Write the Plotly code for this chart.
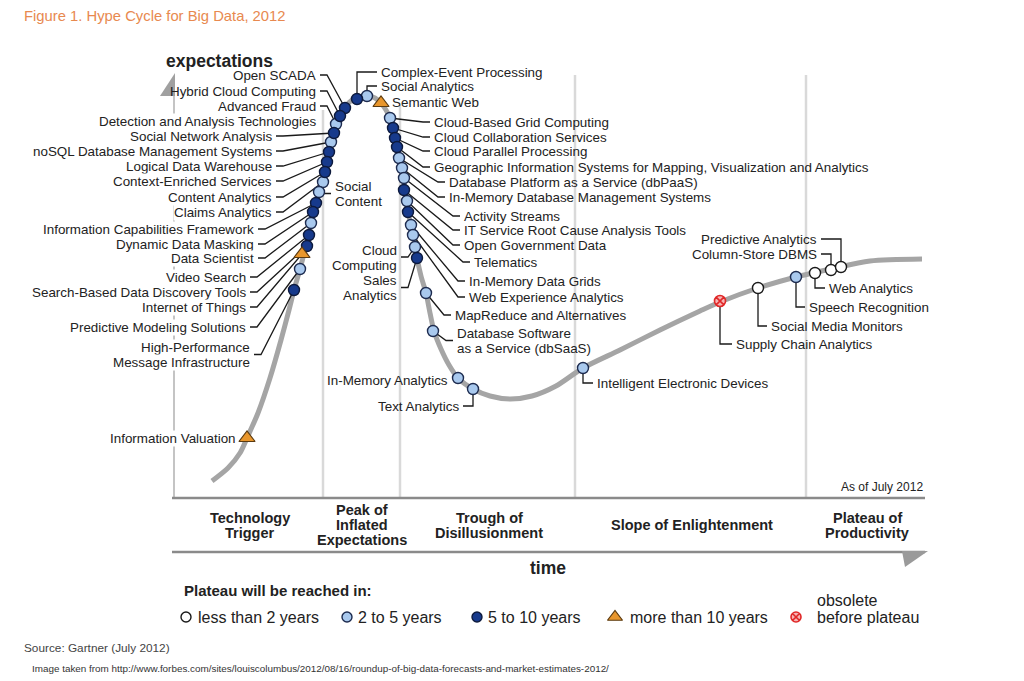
import plotly.graph_objects as go

# ------------------------------------------------------------------ data
tech_names = [
    "Open SCADA", "Hybrid Cloud Computing",
    "Advanced Fraud<br>Detection and Analysis Technologies",
    "Social Network Analysis", "noSQL Database Management Systems", "Logical Data Warehouse",
    "Context-Enriched Services", "Content Analytics", "Claims Analytics", "Social<br>Content",
    "Information Capabilities Framework", "Dynamic Data Masking", "Data Scientist", "Video Search",
    "Search-Based Data Discovery Tools", "Internet of Things", "Predictive Modeling Solutions",
    "High-Performance<br>Message Infrastructure", "Information Valuation",
    "Complex-Event Processing", "Social Analytics", "Semantic Web",
    "Cloud-Based Grid Computing", "Cloud Collaboration Services", "Cloud Parallel Processing",
    "Geographic Information Systems for Mapping, Visualization and Analytics",
    "Database Platform as a Service (dbPaaS)", "In-Memory Database Management Systems",
    "Activity Streams", "IT Service Root Cause Analysis Tools", "Open Government Data", "Telematics",
    "In-Memory Data Grids", "Web Experience Analytics", "Cloud<br>Computing", "Sales<br>Analytics",
    "MapReduce and Alternatives", "Database Software<br>as a Service (dbSaaS)", "In-Memory Analytics",
    "Text Analytics", "Intelligent Electronic Devices", "Supply Chain Analytics",
    "Social Media Monitors", "Speech Recognition", "Web Analytics", "Column-Store DBMS",
    "Predictive Analytics",
]
# position along the time axis
tech_time = [345, 340, 336, 334, 331, 329, 327, 325, 323, 319, 316, 313, 311, 309, 307, 302, 300, 294, 247,
             357, 367, 381,
             390, 393, 395, 397, 399, 402, 404, 404, 407, 408, 411, 413, 415, 417,
             426, 433, 458, 473, 583, 720, 758, 796, 815, 831, 841]
# expectation level (screen-down axis)
tech_expect = [108, 116, 124, 133, 142, 152, 162, 172, 182, 192, 203, 212, 223, 235, 246, 254, 269, 290, 438,
               99, 96, 103,
               118, 128, 138, 147, 158, 168, 178, 190, 201, 212, 225, 235, 247, 258,
               293, 331, 378, 389, 368, 301, 288, 277, 273, 270, 267]
tech_plateau = ["5-10", "5-10", "2-5", "5-10", "2-5", "5-10", "5-10", "5-10", "2-5", "2-5",
                "5-10", "5-10", "2-5", "5-10", "5-10", ">10", "2-5", "5-10", ">10",
                "5-10", "2-5", ">10",
                "2-5", "5-10", "5-10", "5-10", "2-5", "2-5", "2-5", "5-10", "2-5", "5-10", "2-5", "2-5",
                "2-5", "5-10",
                "2-5", "2-5", "2-5", "2-5", "2-5", "obsolete", "<2", "2-5", "<2", "<2", "<2"]

curve_time = [212, 228, 240, 247, 258, 270, 281, 289, 294, 300, 305, 309, 313, 319, 325, 329, 334, 340,
              346, 352, 360, 368, 375, 381, 386, 390, 395, 399, 404, 408, 413, 417, 421, 426, 430, 434,
              441, 449, 458, 473, 490, 510, 532, 556, 583, 620, 660, 700, 720, 758, 796, 831, 870, 922]
curve_expect = [481, 468, 453, 438, 413, 378, 340, 310, 290, 269, 250, 235, 212, 192, 172, 152, 133, 116,
                106, 100, 97, 96, 98, 103, 110, 118, 138, 158, 182, 212, 235, 258, 276, 293, 313, 331,
                349, 365, 378, 389, 396, 399, 396, 386, 368, 350, 330, 311, 302, 288, 277, 269, 261, 259]

phase_names = ["Technology<br>Trigger", "Peak of<br>Inflated<br>Expectations",
               "Trough of<br>Disillusionment", "Slope of Enlightenment", "Plateau of<br>Productivity"]
phase_bounds = [174, 323, 400, 575, 806, 925]

legend_keys = ["<2", "2-5", "5-10", ">10", "obsolete"]
legend_texts = ["less than 2 years", "2 to 5 years", "5 to 10 years", "more than 10 years",
                "obsolete<br>before plateau"]

# ------------------------------------------------------------------ layout / style tables
FONT = "Liberation Sans, Arial, sans-serif"
TXT = "#222222"
LABEL_SIZE = 13.4

# label placement: (x, first-line y, anchor, connector kind, connector y)
label_layout = [
    (317, 75, "right", "diag", None), (317, 91, "right", "diag", None), (317, 106, "right", "diag", 106),
    (273, 136, "right", "diag", None), (273, 151, "right", "diag", None), (273, 166, "right", "diag", None),
    (273, 181, "right", "diag", None), (273, 197, "right", "diag", None), (273, 212, "right", "diag", None),
    (334, 186, "left", "diag", 193.5),
    (255, 229, "right", "diag", None), (255, 244, "right", "diag", None), (255, 258, "right", "diag", None),
    (247, 277, "right", "diag", None), (247, 292, "right", "diag", None), (247, 307, "right", "diag", None),
    (247, 327, "right", "diag", None), (251, 347, "right", "diag", 354.5), (237, 438, "right", "none", None),
    (380, 72, "left", "hv", None), (380, 86, "left", "hv", None), (391, 102, "left", "none", None),
    (433, 122, "left", "diag", None), (433, 137, "left", "diag", None), (433, 151, "left", "diag", None),
    (433, 167, "left", "diag", None), (448, 182, "left", "diag", None), (448, 197, "left", "diag", None),
    (463, 216, "left", "diag", None), (463, 230, "left", "diag", None), (463, 245, "left", "diag", None),
    (473, 262, "left", "diag", None), (468, 281, "left", "diag", None), (468, 297, "left", "diag", None),
    (398, 250, "right", "diag", 257), (398, 280, "right", "diag", 287.5),
    (454, 315, "left", "diag", None), (456, 333, "left", "diag", 340.5), (449, 380, "right", "none", None),
    (460, 406, "right", "hv", None), (596, 383, "left", "vh", None), (735, 344, "left", "vh", None),
    (770, 326, "left", "vh", None), (808, 307, "left", "vh", None), (828, 288, "left", "vh", None),
    (818, 254, "right", "hv", None), (818, 239, "right", "hv", None),
]

marker_style = {
    "<2": dict(symbol="circle", color="#ffffff", line=dict(color="#1a1a1a", width=1.4), size=11),
    "2-5": dict(symbol="circle", color="#a9c9ee", line=dict(color="#1d2b4f", width=1.4), size=11),
    "5-10": dict(symbol="circle", color="#173a8c", line=dict(color="#0d1a3d", width=1.4), size=11),
    ">10": dict(symbol="triangle-up", color="#e8962c", line=dict(color="#5a3a10", width=1.2), size=14),
    "obsolete": dict(symbol="circle-x", color="#f6b4b4", line=dict(color="#e02828", width=1.6), size=11),
}

# the page body has an 8px margin: the plot area is offset so that
# coordinates map onto the window pixels one to one
PAGE_OFFSET = 8
W, H = 1024, 681

fig = go.Figure()

# hype curve
fig.add_trace(go.Scatter(x=curve_time, y=curve_expect, mode="lines",
                         line=dict(color="#a5a5a5", width=5, shape="spline", smoothing=0.8),
                         hoverinfo="skip", showlegend=False))

# connectors and labels
cx, cy_all = [], []
annotations = []
for name, mx, my, (lx, ly, anchor, kind, cy) in zip(tech_names, tech_time, tech_expect, label_layout):
    lines = name.split("<br>")
    for i, ln in enumerate(lines):
        yl = ly + 15 * i
        crosses_axis = (anchor == "right" and lx - len(ln) * 6.6 < 182 and 96 < yl < 498)
        annotations.append(dict(x=lx, y=yl, text=ln, xanchor=anchor, yanchor="middle",
                                showarrow=False, font=dict(family=FONT, size=LABEL_SIZE, color=TXT),
                                bgcolor="white" if crosses_axis else None, borderpad=0))
    if cy is None:
        cy = ly
    edge = lx + 3 if anchor == "right" else lx - 3
    if kind == "diag":
        stub = edge + 7 if anchor == "right" else edge - 7
        cx += [edge, stub, mx, None]
        cy_all += [cy, cy, my, None]
    elif kind == "hv":
        cx += [edge, mx, mx, None]
        cy_all += [cy, cy, my, None]
    elif kind == "vh":
        cx += [mx, mx, edge, None]
        cy_all += [my, cy, cy, None]

fig.add_trace(go.Scatter(x=cx, y=cy_all, mode="lines", line=dict(color="#1a1a1a", width=1.3),
                         hoverinfo="skip", showlegend=False))

# technology markers by plateau category
for key in legend_keys:
    xs = [t for t, p in zip(tech_time, tech_plateau) if p == key]
    ys = [e for e, p in zip(tech_expect, tech_plateau) if p == key]
    st = marker_style[key]
    fig.add_trace(go.Scatter(x=xs, y=ys, mode="markers",
                             marker=dict(symbol=st["symbol"], color=st["color"], size=st["size"], line=st["line"]),
                             hoverinfo="skip", showlegend=False))

# manual legend
legend_mx = [186, 347, 477, 615, 796]
legend_tx = [196, 356, 486, 628, 815]
for key, txt, mxl, tx in zip(legend_keys, legend_texts, legend_mx, legend_tx):
    st = marker_style[key]
    fig.add_trace(go.Scatter(x=[mxl], y=[617], mode="markers",
                             marker=dict(symbol=st["symbol"], color=st["color"], size=st["size"] - 1,
                                         line=st["line"]),
                             hoverinfo="skip", showlegend=False))
    parts = txt.split("<br>")
    for i, p in enumerate(parts):
        annotations.append(dict(x=tx, y=617 - 17 * (len(parts) - 1 - i), text=p, xanchor="left",
                                yanchor="middle", showarrow=False,
                                font=dict(family=FONT, size=16, color=TXT)))

annotations.append(dict(x=182, y=590, text="<b>Plateau will be reached in:</b>", xanchor="left",
                        yanchor="middle", showarrow=False, font=dict(family=FONT, size=15, color=TXT)))

# phase labels
phase_centers = [250, 362, 489, 692, 867]
for pn, center in zip(phase_names, phase_centers):
    parts = pn.split("<br>")
    n = len(parts)
    for j, p in enumerate(parts):
        annotations.append(dict(x=center, y=525 + 15 * (j - (n - 1) / 2), text="<b>%s</b>" % p,
                                xanchor="center", yanchor="middle", showarrow=False,
                                font=dict(family=FONT, size=14.5, color=TXT)))

# other texts
annotations += [
    dict(x=22, y=16, text="Figure 1. Hype Cycle for Big Data, 2012", xanchor="left", yanchor="middle",
         showarrow=False, font=dict(family=FONT, size=14.8, color="#e8894f")),
    dict(x=219, y=61, text="<b>expectations</b>", xanchor="center", yanchor="middle", showarrow=False,
         font=dict(family=FONT, size=17.5, color=TXT)),
    dict(x=548, y=568, text="<b>time</b>", xanchor="center", yanchor="middle", showarrow=False,
         font=dict(family=FONT, size=17.5, color=TXT)),
    dict(x=925, y=487, text="As of July 2012", xanchor="right", yanchor="middle", showarrow=False,
         font=dict(family=FONT, size=12, color=TXT)),
    dict(x=22, y=648, text="Source: Gartner (July 2012)", xanchor="left", yanchor="middle", showarrow=False,
         font=dict(family=FONT, size=11.8, color="#444444")),
    dict(x=30, y=668,
         text="Image taken from http://www.forbes.com/sites/louiscolumbus/2012/08/16/roundup-of-big-data-forecasts-and-market-estimates-2012/",
         xanchor="left", yanchor="middle", showarrow=False, font=dict(family=FONT, size=9.9, color="#333333")),
]

shapes = []
# phase separators
for xb, ytop in zip(phase_bounds[1:5], [110, 105, 75, 75]):
    shapes.append(dict(type="line", x0=xb, x1=xb, y0=ytop, y1=498, layer="below",
                       line=dict(color="#d9d9d9", width=2.5)))
# expectations axis + arrow
shapes.append(dict(type="line", x0=174, x1=174, y0=96, y1=498, layer="below",
                   line=dict(color="#b0b0b0", width=1.5)))
shapes.append(dict(type="path", path="M 160 96 L 175 73 L 175 96 Z", fillcolor="#a0a0a0",
                   line=dict(width=0), layer="below"))
# phase band lines + time arrow
for yl in [498, 552]:
    shapes.append(dict(type="line", x0=172, x1=925, y0=yl, y1=yl, layer="below",
                       line=dict(color="#8a8a8a", width=2.5)))
shapes.append(dict(type="path", path="M 902 551 L 928 551 L 905 567 Z", fillcolor="#9a9a9a",
                   line=dict(width=0), layer="below"))

fig.update_layout(
    width=W - PAGE_OFFSET, height=H - PAGE_OFFSET, margin=dict(l=0, r=0, t=0, b=0),
    paper_bgcolor="white", plot_bgcolor="white",
    xaxis=dict(range=[PAGE_OFFSET, W], visible=False, fixedrange=True),
    yaxis=dict(range=[H, PAGE_OFFSET], visible=False, fixedrange=True),
    annotations=annotations, shapes=shapes, showlegend=False,
)

fig.write_html("out.html")
